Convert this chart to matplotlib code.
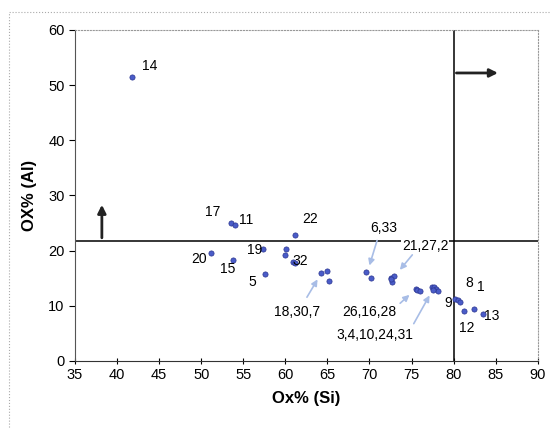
import matplotlib.pyplot as plt
from matplotlib.patches import Rectangle

plt.rcParams['font.family'] = ['Liberation Sans', 'DejaVu Sans']

# oxidation % of Si vs Al per sample
si = [41.8, 53.6, 54.0, 61.2, 51.2, 53.8, 57.3, 57.6,
      60.1, 60.0, 60.9, 61.1,
      64.2, 64.9, 65.2,
      69.6, 70.2,
      72.6, 72.9, 72.7, 72.5,
      75.5, 75.7, 76.0,
      77.4, 77.7, 77.9, 78.1, 77.6,
      80.2, 80.5, 80.8,
      81.2, 82.4, 83.5]
al = [51.4, 25.0, 24.7, 22.8, 19.6, 18.3, 20.3, 15.8,
      20.3, 19.2, 17.9, 17.7,
      15.9, 16.3, 14.5,
      16.1, 15.0,
      15.0, 15.4, 14.3, 14.8,
      13.0, 12.9, 12.7,
      13.4, 13.3, 13.0, 12.7, 12.9,
      11.2, 11.0, 10.7,
      9.1, 9.4, 8.5]

# single-number labels: text, x, y
labels = ['14', '17', '11', '22', '20', '15', '19', '32', '5', '8', '1', '9', '12', '13']
lab_x = [43.9, 51.4, 55.3, 63.0, 49.8, 53.1, 56.3, 61.8, 56.1, 81.8, 83.2, 79.4, 81.6, 84.5]
lab_y = [53.4, 27.0, 25.5, 25.7, 18.5, 16.7, 20.1, 18.1, 14.3, 14.1, 13.4, 10.5, 6.0, 8.2]

# grouped labels with pointer arrows: text, text pos, arrow tail, arrow head
groups = ['6,33', '21,27,2', '18,30,7', '26,16,28', '3,4,10,24,31']
grp_xy = [(71.7, 24.1), (76.6, 20.8), (61.4, 8.9), (70.0, 8.9), (70.6, 4.7)]
grp_tail = [(71.0, 22.3), (75.3, 19.6), (62.4, 11.1), (73.4, 10.1), (75.1, 6.3)]
grp_head = [(69.9, 16.8), (73.4, 16.1), (64.0, 15.2), (75.0, 12.3), (77.3, 12.3)]

si_limit = 80
al_limit = 21.8

fig = plt.figure(figsize=(5.51, 4.28), dpi=100)
fig.patches.append(Rectangle((9 / 551, -0.1), 1.2, 1.1 - 12 / 428,
                             transform=fig.transFigure, fill=False,
                             edgecolor='#aaaaaa', lw=0.8, ls=':'))
ax = fig.add_axes([0.136, 0.157, 0.840, 0.773])

ax.scatter(si, al, s=14, color='#4a5cc8', edgecolors='#2a3590', linewidths=0.5, zorder=3)

ax.axhline(al_limit, color='black', lw=1.1, zorder=2)
ax.axvline(si_limit, color='black', lw=1.1, zorder=2)

# direction arrows
ax.annotate('', xy=(85.6, 52.2), xytext=(si_limit, 52.2),
            arrowprops=dict(arrowstyle='-|>', color='#222222', lw=2, mutation_scale=12))
ax.annotate('', xy=(38.2, 28.8), xytext=(38.2, al_limit),
            arrowprops=dict(arrowstyle='-|>', color='#222222', lw=2, mutation_scale=12))

for t, x, y in zip(labels, lab_x, lab_y):
    ax.text(x, y, t, fontsize=10, ha='center', va='center')

for t, xy, tail, head in zip(groups, grp_xy, grp_tail, grp_head):
    ax.text(xy[0], xy[1], t, fontsize=10, ha='center', va='center',
            bbox=dict(facecolor='white', edgecolor='none', pad=0.5) if t == '21,27,2' else None)
    ax.annotate('', xy=head, xytext=tail,
                arrowprops=dict(arrowstyle='-|>', color='#a8bde6', lw=1.2, mutation_scale=9))

ax.set_xlim(35, 90)
ax.set_ylim(0, 60)
ax.set_xticks(range(35, 91, 5))
ax.set_yticks(range(0, 61, 10))
ax.tick_params(axis='both', labelsize=10.5, length=4, width=0.8)
ax.tick_params(axis='x', direction='inout')
ax.set_xlabel('Ox% (Si)', fontsize=12, fontweight='bold', labelpad=6)
ax.set_ylabel('OX% (Al)', fontsize=12, fontweight='bold', labelpad=8)

for side in ['top', 'right']:
    ax.spines[side].set_color('#999999')
    ax.spines[side].set_linestyle(':')
ax.spines['left'].set_color('#555555')
ax.spines['bottom'].set_color('#333333')

fig.savefig('out.png', dpi=100)
